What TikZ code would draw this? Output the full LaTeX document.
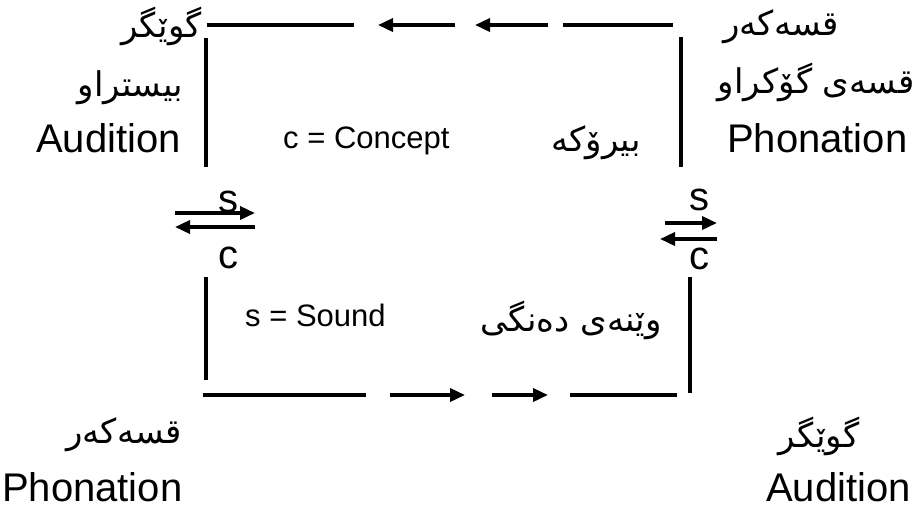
\documentclass[tikz,border=0pt]{standalone}
\usepackage{fontspec}
\setmainfont{Liberation Sans}
\newfontfamily\arabicfont[Script=Arabic]{DejaVu Sans}
\TeXXeTstate=1
\usetikzlibrary{arrows.meta}
\tikzset{
  seg/.style={line width=3.5pt},
  arr/.style={line width=3.5pt,-{Triangle[length=15pt,width=13pt]}},
  big/.style={inner sep=0pt,font=\fontsize{40}{44}\selectfont},
  mid/.style={inner sep=0pt,font=\fontsize{31}{36}\selectfont},
  ar/.style={inner sep=0pt,font=\fontsize{34}{40}\arabicfont},
}
\newcommand{\RL}[1]{\beginR #1\endR}
\begin{document}
\begin{tikzpicture}[x=1pt,y=-1pt]
\useasboundingbox (0,0) rectangle (920,507);
% coordinates: top line
\coordinate (t1a) at (207,25); \coordinate (t1b) at (354,25);
\coordinate (t2a) at (455,25); \coordinate (t2b) at (378,25);
\coordinate (t3a) at (548,25); \coordinate (t3b) at (475,25);
\coordinate (t4a) at (563,25); \coordinate (t4b) at (673,25);
% verticals
\coordinate (vl1a) at (206,38); \coordinate (vl1b) at (206,167);
\coordinate (vr1a) at (681,37); \coordinate (vr1b) at (681,167);
\coordinate (vl2a) at (206,277); \coordinate (vl2b) at (206,380);
\coordinate (vr2a) at (690,277); \coordinate (vr2b) at (690,393);
% bottom line
\coordinate (b1a) at (203,395); \coordinate (b1b) at (366,395);
\coordinate (b2a) at (390,395); \coordinate (b2b) at (465,395);
\coordinate (b3a) at (492,395); \coordinate (b3b) at (548,395);
\coordinate (b4a) at (570,395); \coordinate (b4b) at (677,395);
% exchange arrows
\coordinate (la1) at (175,213); \coordinate (la2) at (255,213);
\coordinate (lb1) at (255,227); \coordinate (lb2) at (175,227);
\coordinate (ra1) at (665,223); \coordinate (ra2) at (717,223);
\coordinate (rb1) at (717,239); \coordinate (rb2) at (660,239);

\draw[seg] (t1a) -- (t1b);
\draw[arr] (t2a) -- (t2b);
\draw[arr] (t3a) -- (t3b);
\draw[seg] (t4a) -- (t4b);
\draw[seg] (vl1a) -- (vl1b);
\draw[seg] (vr1a) -- (vr1b);
\draw[seg] (vl2a) -- (vl2b);
\draw[seg] (vr2a) -- (vr2b);
\draw[seg] (b1a) -- (b1b);
\draw[arr] (b2a) -- (b2b);
\draw[arr] (b3a) -- (b3b);
\draw[seg] (b4a) -- (b4b);
\draw[arr] (la1) -- (la2);
\draw[arr] (lb1) -- (lb2);
\draw[arr] (ra1) -- (ra2);
\draw[arr] (rb1) -- (rb2);

% s / c labels
\node[big] (ls) at (228,202) {s};
\node[big] (lc) at (228,258) {c};
\node[big] (rs) at (699,200) {s};
\node[big] (rc) at (699,259) {c};

% Latin labels
\node[big,anchor=base east] (audTL) at (181,152) {Audition};
\node[big,anchor=base west] (phoTR) at (727,152) {Phonation};
\node[big,anchor=base west] (phoBL) at (2,501) {Phonation};
\node[big,anchor=base east] (audBR) at (911,501) {Audition};
\node[mid,anchor=base west] (concept) at (283,148) {c = Concept};
\node[mid,anchor=base west] (sound) at (245,326) {s = Sound};

% Kurdish labels
\node[ar,anchor=east] (kTL1) at (202,26) {\RL{گوێگر}};
\node[ar,anchor=east] (kTL2) at (183,88) {\RL{بیستراو}};
\node[ar] (kTR1) at (781,27) {\RL{قسەکەر}};
\node[ar] (kTR2) at (816,82) {\RL{قسەی گۆکراو}};
\node[ar] (kC1) at (596,143) {\RL{بیرۆکە}};
\node[ar] (kC2) at (571,320) {\RL{وێنەی دەنگی}};
\node[ar] (kBL) at (124,435) {\RL{قسەکەر}};
\node[ar] (kBR) at (819,436) {\RL{گوێگر}};
\end{tikzpicture}
\end{document}
